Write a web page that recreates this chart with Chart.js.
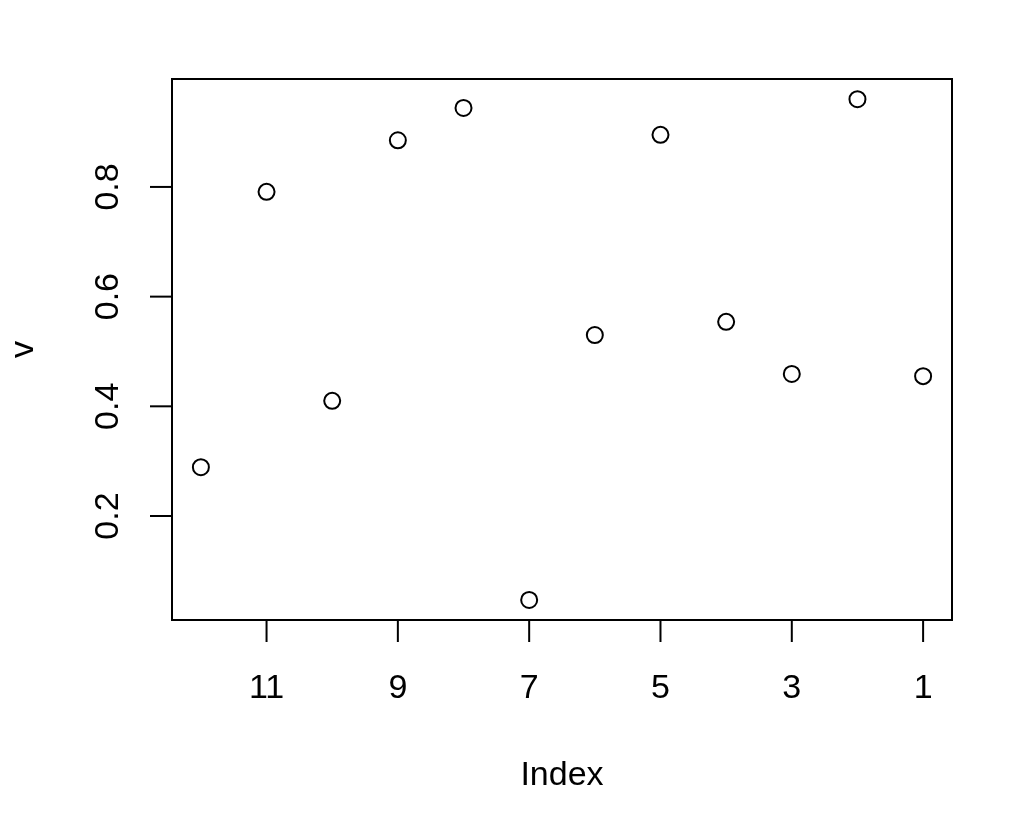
<!DOCTYPE html>
<html>
<head>
<meta charset="utf-8">
<script src="https://cdn.jsdelivr.net/npm/chart.js@4/dist/chart.umd.min.js"></script>
<style>
  body { margin: 0; background: #fff; }
  #wrap { width: 1012px; height: 830px; }
</style>
</head>
<body>
<div id="wrap"><canvas id="chart" width="1012" height="830"></canvas></div>
<script>
// index values and v values
const indexes = [12, 11, 10, 9, 8, 7, 6, 5, 4, 3, 2, 1];
const values = [0.289, 0.791, 0.41, 0.885, 0.944, 0.047, 0.53, 0.895, 0.554, 0.459, 0.96, 0.455];
const xTicks = [11, 9, 7, 5, 3, 1];
const yTicks = [0.2, 0.4, 0.6, 0.8];
const yTickLabels = ["0.2", "0.4", "0.6", "0.8"];
const xTitle = "Index";
const yTitle = "v";

const FONT = '34px "Liberation Sans", Arial, sans-serif';

// box, ticks and labels drawn the way base R does it
const rAxes = {
  id: "rAxes",
  afterDraw(chart) {
    const ctx = chart.ctx;
    const area = chart.chartArea;
    const xs = chart.scales.x;
    const ys = chart.scales.y;
    const tick = 22;
    ctx.save();
    ctx.strokeStyle = "#000";
    ctx.fillStyle = "#000";
    ctx.lineWidth = 2;
    ctx.strokeRect(area.left, area.top, area.right - area.left, area.bottom - area.top);

    ctx.font = FONT;
    // x axis
    ctx.textAlign = "center";
    ctx.textBaseline = "alphabetic";
    xTicks.forEach((t) => {
      const px = xs.getPixelForValue(t);
      ctx.beginPath();
      ctx.moveTo(px, area.bottom);
      ctx.lineTo(px, area.bottom + tick);
      ctx.stroke();
      ctx.fillText(String(t), px, 698);
    });
    // y axis
    yTicks.forEach((t, i) => {
      const py = ys.getPixelForValue(t);
      ctx.beginPath();
      ctx.moveTo(area.left, py);
      ctx.lineTo(area.left - tick, py);
      ctx.stroke();
      ctx.save();
      ctx.translate(118, py);
      ctx.rotate(-Math.PI / 2);
      ctx.fillText(yTickLabels[i], 0, 0);
      ctx.restore();
    });

    // titles
    ctx.fillText(xTitle, (area.left + area.right) / 2, 785);
    ctx.save();
    ctx.translate(33, (area.top + area.bottom) / 2);
    ctx.rotate(-Math.PI / 2);
    ctx.fillText(yTitle, 0, 0);
    ctx.restore();
    ctx.restore();
  },
};

const points = indexes.map((ix, i) => ({ x: ix, y: values[i] }));

const config = {
  type: "scatter",
  data: {
    datasets: [
      {
        data: points,
        pointStyle: "circle",
        pointRadius: 8,
        pointHoverRadius: 8,
        borderWidth: 2,
        borderColor: "#000",
        backgroundColor: "rgba(0,0,0,0)",
      },
    ],
  },
  options: {
    responsive: false,
    animation: false,
    events: [],
    layout: {
      padding: { left: 172, right: 60, top: 79, bottom: 210 },
    },
    plugins: {
      legend: { display: false },
      tooltip: { enabled: false },
    },
    scales: {
      x: { type: "linear", reverse: true, min: 0.56, max: 12.44, display: false },
      y: { type: "linear", min: 0.0104, max: 0.9968, display: false },
    },
  },
  plugins: [rAxes],
};

new Chart(document.getElementById("chart").getContext("2d"), config);
</script>
</body>
</html>
